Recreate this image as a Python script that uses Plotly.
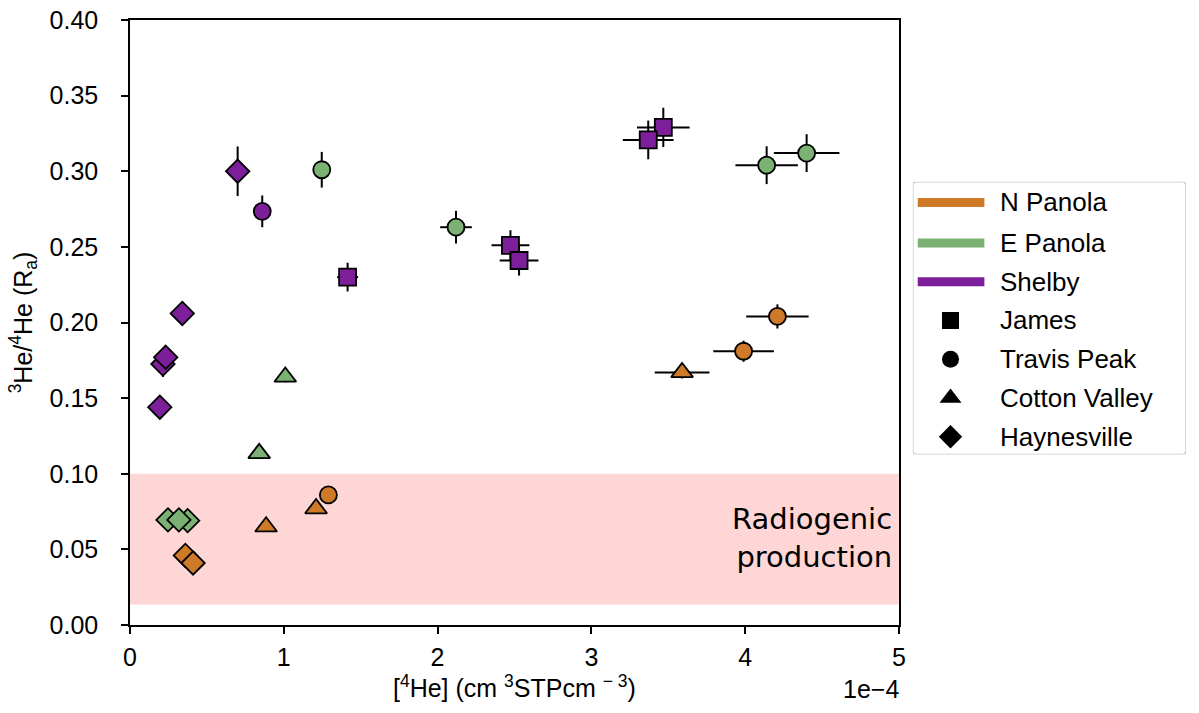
import plotly.graph_objects as go

# ---------------- data (x in units of 1e-4 cm3 STP cm-3) ----------------
regions = ["N Panola", "E Panola", "Shelby"]
region_colors = ["#cf7a28", "#7bb273", "#7d1f9a"]
formations = ["James", "Travis Peak", "Cotton Valley", "Haynesville"]
formation_symbols = ["square", "circle", "triangle-up", "diamond"]

# N Panola
np_form = ["Travis Peak", "Travis Peak", "Travis Peak", "Cotton Valley", "Cotton Valley", "Cotton Valley", "Haynesville", "Haynesville"]
np_x = [4.21, 3.99, 1.29, 3.59, 1.21, 0.885, 0.36, 0.41]
np_y = [0.204, 0.181, 0.086, 0.167, 0.077, 0.065, 0.046, 0.041]
np_xerr = [0.203, 0.197, 0.0, 0.178, 0.05, 0.0, 0.0, 0.0]
np_yerr = [0.008, 0.007, 0.0, 0.004, 0.003, 0.0, 0.0, 0.0]

# E Panola
ep_form = ["Travis Peak", "Travis Peak", "Travis Peak", "Travis Peak", "Cotton Valley", "Cotton Valley", "Haynesville", "Haynesville", "Haynesville"]
ep_x = [4.40, 4.14, 2.12, 1.247, 1.01, 0.84, 0.247, 0.375, 0.318]
ep_y = [0.312, 0.304, 0.263, 0.301, 0.164, 0.1135, 0.0695, 0.069, 0.0695]
ep_xerr = [0.213, 0.203, 0.103, 0.0, 0.02, 0.0, 0.0, 0.0, 0.0]
ep_yerr = [0.0125, 0.0125, 0.0108, 0.0118, 0.0035, 0.0, 0.0, 0.0, 0.0]

# Shelby
sh_form = ["James", "James", "James", "James", "James", "Travis Peak", "Haynesville", "Haynesville", "Haynesville", "Haynesville", "Haynesville"]
sh_x = [3.468, 3.37, 2.474, 2.53, 1.415, 0.86, 0.70, 0.34, 0.214, 0.232, 0.194]
sh_y = [0.329, 0.3207, 0.251, 0.241, 0.230, 0.2735, 0.300, 0.206, 0.1725, 0.177, 0.144]
sh_xerr = [0.171, 0.165, 0.123, 0.126, 0.068, 0.0, 0.0, 0.0, 0.0, 0.0, 0.0]
sh_yerr = [0.013, 0.0128, 0.010, 0.010, 0.0095, 0.0105, 0.0164, 0.0, 0.0085, 0.007, 0.0]

radiogenic_low = 0.0135
radiogenic_high = 0.1

region_data = [
    (np_form, np_x, np_y, np_xerr, np_yerr),
    (ep_form, ep_x, ep_y, ep_xerr, ep_yerr),
    (sh_form, sh_x, sh_y, sh_xerr, sh_yerr),
]

marker_sizes = {"square": 17, "circle": 17, "triangle-up": 19, "diamond": 18}

fig = go.Figure()

for rname, color, (forms, xs, ys, xe, ye) in zip(regions, region_colors, region_data):
    for fname, sym in zip(formations, formation_symbols):
        idx = [i for i, f in enumerate(forms) if f == fname]
        if not idx:
            continue
        fig.add_trace(go.Scatter(
            x=[xs[i] for i in idx], y=[ys[i] for i in idx],
            mode="markers",
            marker=dict(symbol=sym, size=marker_sizes[sym], color=color,
                        line=dict(color="black", width=1.8)),
            error_x=dict(type="data", array=[xe[i] for i in idx], color="black", thickness=2, width=0),
            error_y=dict(type="data", array=[ye[i] for i in idx], color="black", thickness=2, width=0),
            showlegend=False, xaxis="x", yaxis="y", name=f"{rname} {fname}",
        ))

# ---------------- custom legend on a hidden axis ----------------
row_y = [0.924, 0.775, 0.633, 0.491, 0.349, 0.207, 0.065]
legend_font = dict(family="Liberation Sans, Arial, sans-serif", size=26, color="black")
for k, (rname, color) in enumerate(zip(regions, region_colors)):
    fig.add_trace(go.Scatter(x=[0.018, 0.262], y=[row_y[k], row_y[k]], mode="lines",
                             line=dict(color=color, width=9), showlegend=False,
                             xaxis="x2", yaxis="y2", hoverinfo="skip"))
    fig.add_annotation(x=0.313, y=row_y[k], xref="x2", yref="y2", text=rname,
                       showarrow=False, xanchor="left", yanchor="middle", font=legend_font)
for k, (fname, sym) in enumerate(zip(formations, formation_symbols)):
    yy = row_y[3 + k]
    fig.add_trace(go.Scatter(x=[0.138], y=[yy], mode="markers",
                             marker=dict(symbol=sym, size=marker_sizes[sym], color="black"),
                             showlegend=False, xaxis="x2", yaxis="y2", hoverinfo="skip"))
    fig.add_annotation(x=0.313, y=yy, xref="x2", yref="y2", text=fname,
                       showarrow=False, xanchor="left", yanchor="middle", font=legend_font)

r = 0.015
fig.add_shape(type="path", xref="x2", yref="y2",
              path=f"M {r},0 L {1-r},0 Q 1,0 1,{r} L 1,{1-r} Q 1,1 {1-r},1 L {r},1 Q 0,1 0,{1-r} L 0,{r} Q 0,0 {r},0 Z",
              line=dict(color="#cccccc", width=1.5), fillcolor="white", layer="below")

# ---------------- radiogenic band ----------------
fig.add_shape(type="rect", xref="x domain", yref="y", x0=0, x1=1,
              y0=radiogenic_low, y1=radiogenic_high,
              fillcolor="#ffd6d6", line=dict(width=0), layer="below")
fig.add_annotation(x=1, y=(radiogenic_low + radiogenic_high) / 2 + 0.001, xref="x domain", yref="y",
                   text="Radiogenic<br>production", showarrow=False, xanchor="right",
                   yanchor="middle", align="right", xshift=-5,
                   font=dict(family="DejaVu Sans", size=29, color="black"))

# offset text
fig.add_annotation(x=1, y=0, xref="x domain", yref="paper", text="1e\u22124",
                   showarrow=False, xanchor="right", yanchor="top", yshift=-48, xshift=2,
                   font=dict(family="Liberation Sans, Arial, sans-serif", size=25, color="black"))

tick_font = dict(family="Liberation Sans, Arial, sans-serif", size=25, color="black")
L, R, T, B = 130, 6, 15, 88
W, H = 1199, 713
pw = W - L - R
ph = H - T - B

fig.update_layout(
    width=W, height=H,
    margin=dict(l=L, r=R, t=T, b=B),
    paper_bgcolor="white", plot_bgcolor="white",
    showlegend=False,
    xaxis=dict(domain=[0, 774 / pw], range=[0, 5], tickvals=[0, 1, 2, 3, 4, 5],
               ticktext=["0", "1", "2", "3", "4", "5"],
               ticks="outside", ticklen=7, tickwidth=1.5, tickcolor="black",
               showline=True, linecolor="black", linewidth=1.5, mirror=True,
               showgrid=False, zeroline=False, tickfont=tick_font, ticklabelstandoff=2,
               title=dict(text="[<sup>4</sup>He] (cm <sup>3</sup>STPcm <sup>\u2212 3</sup>)",
                          font=tick_font, standoff=8)),
    yaxis=dict(range=[0, 0.4], tickvals=[0, 0.05, 0.1, 0.15, 0.2, 0.25, 0.3, 0.35, 0.4],
               ticktext=["0.00", "0.05", "0.10", "0.15", "0.20", "0.25", "0.30", "0.35", "0.40"],
               ticks="outside", ticklen=7, tickwidth=1.5, tickcolor="black",
               showline=True, linecolor="black", linewidth=1.5, mirror=True,
               showgrid=False, zeroline=False, tickfont=tick_font, ticklabelstandoff=18,
               title=dict(text="<sup>3</sup>He/<sup>4</sup>He (R<sub>a</sub>)",
                          font=tick_font, standoff=10)),
    xaxis2=dict(domain=[(918 - L) / pw, (1193 - L) / pw], range=[0, 1], visible=False, anchor="y2"),
    yaxis2=dict(domain=[(625 - 453) / ph, (625 - 178) / ph], range=[0, 1], visible=False, anchor="x2"),
)

fig.write_html("out.html")
